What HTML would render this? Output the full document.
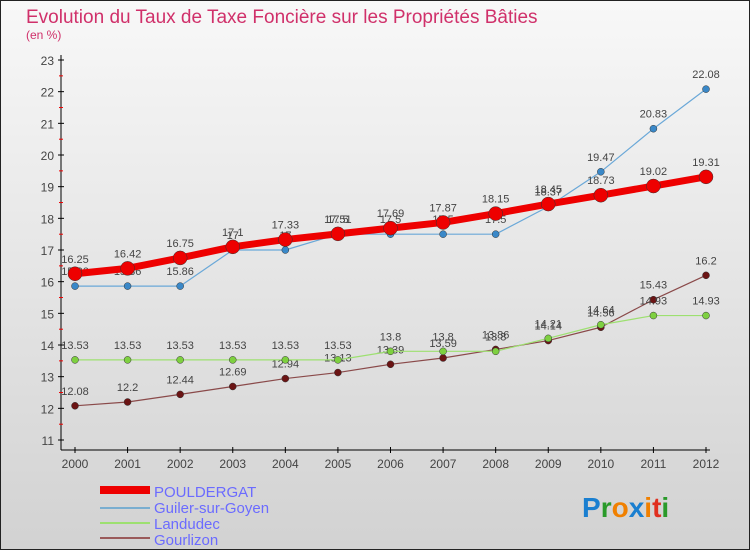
<!DOCTYPE html>
<html><head><meta charset="utf-8"><style>
body{margin:0;background:#fff}
svg text{font-family:"Liberation Sans",sans-serif}
</style></head><body>
<svg width="750" height="550" xmlns="http://www.w3.org/2000/svg">
<defs><linearGradient id="bg" x1="0" y1="0" x2="0" y2="1"><stop offset="0" stop-color="#f8f8f8"/><stop offset="1" stop-color="#d2d2d2"/></linearGradient></defs>
<rect x="0.5" y="0.5" width="749" height="549" fill="url(#bg)" stroke="#222"/>
<text x="26" y="23" font-size="19" fill="#d0306a">Evolution du Taux de Taxe Foncière sur les Propriétés Bâties</text>
<text x="26" y="39" font-size="12" fill="#d0306a">(en %)</text>
<g id="axes"></g><g id="series"></g>
<g font-size="15" fill="#6b6bff">
<rect x="100" y="486" width="50" height="8" fill="#e00"/>
<text x="154" y="497">POULDERGAT</text>
<rect x="100" y="507" width="50" height="2" fill="#7aaed0"/>
<text x="154" y="513">Guiler-sur-Goyen</text>
<rect x="100" y="522" width="50" height="2" fill="#9de070"/>
<text x="154" y="529">Landudec</text>
<rect x="100" y="537" width="50" height="2" fill="#9a5a5a"/>
<text x="154" y="545">Gourlizon</text>
</g>
<g font-size="28" font-weight="bold">
<text x="582" y="517"><tspan fill="#1a7fd0">P</tspan><tspan fill="#2a9a2a">r</tspan><tspan fill="#f08000">o</tspan><tspan fill="#1a7fd0">x</tspan><tspan fill="#f08000">i</tspan><tspan fill="#e03020">t</tspan><tspan fill="#2a9a2a">i</tspan></text>
</g>
</svg>
<script>
const years=[2000,2001,2002,2003,2004,2005,2006,2007,2008,2009,2010,2011,2012];
const yTicks=[11,12,13,14,15,16,17,18,19,20,21,22,23];
const pouldergat=[16.25,16.42,16.75,17.1,17.33,17.51,17.69,17.87,18.15,18.45,18.73,19.02,19.31];
const guiler=[15.86,15.86,15.86,17,17,17.5,17.5,17.5,17.5,18.37,19.47,20.83,22.08];
const landudec=[13.53,13.53,13.53,13.53,13.53,13.53,13.8,13.8,13.8,14.21,14.64,14.93,14.93];
const gourlizon=[12.08,12.2,12.44,12.69,12.94,13.13,13.39,13.59,13.86,14.14,14.56,15.43,16.2];
const NS='http://www.w3.org/2000/svg';
const xs=i=>75+i*(706-75)/(years.length-1);
const ys=v=>440-(v-11)*(380/12);
function mk(tag,attrs,parent){const e=document.createElementNS(NS,tag);for(const k in attrs)e.setAttribute(k,attrs[k]);parent.appendChild(e);return e;}
const ax=document.getElementById('axes');
let l=mk('line',{x1:61,y1:55,x2:61,y2:450,stroke:'#000'},ax);


l=mk('line',{x1:61,y1:450,x2:710,y2:450,stroke:'#000'},ax);


yTicks.forEach(t=>{
 const y=ys(t);
 mk('line',{x1:58,y1:y,x2:64,y2:y,stroke:'#000'},ax);
 if(t<23)mk('line',{x1:59,y1:y-15.8,x2:63,y2:y-15.8,stroke:'#e00'},ax);
 const tx=mk('text',{x:54,y:y+5,'font-size':12,fill:'#444','text-anchor':'end'},ax);tx.textContent=t;
 
 
});
years.forEach((yr,i)=>{
 const x=xs(i);
 mk('line',{x1:x,y1:447,x2:x,y2:453,stroke:'#000'},ax);
 const tx=mk('text',{x:x,y:468,'font-size':12,fill:'#444','text-anchor':'middle'},ax);tx.textContent=yr;
 
 
});
const sg=document.getElementById('series');
function series(data,color,w,r,dot,name){
 const g=mk('g',{},sg);
 
 
 mk('polyline',{points:data.map((v,i)=>xs(i)+','+ys(v)).join(' '),fill:'none',stroke:color,'stroke-width':w,'stroke-linejoin':'round'},g);
 data.forEach((v,i)=>{
  const c=mk('circle',{cx:xs(i),cy:ys(v),r:r,fill:dot,stroke:'#333','stroke-width':0.5},g);
  
  
  const t=mk('text',{x:xs(i),y:ys(v)-11,'font-size':11,fill:'#444','text-anchor':'middle'},g);t.textContent=v;
  
  
 });
}
series(gourlizon,'#8a4a4a',1.2,3.5,'#6b1414','series-gourlizon');
series(landudec,'#9de070',1.2,3.5,'#7ed040','series-landudec');
series(guiler,'#6aa8d8',1.2,3.5,'#3a88c8','series-guiler');
series(pouldergat,'#ee0000',7,7,'#ee0000','series-pouldergat');
</script>
</body></html>
